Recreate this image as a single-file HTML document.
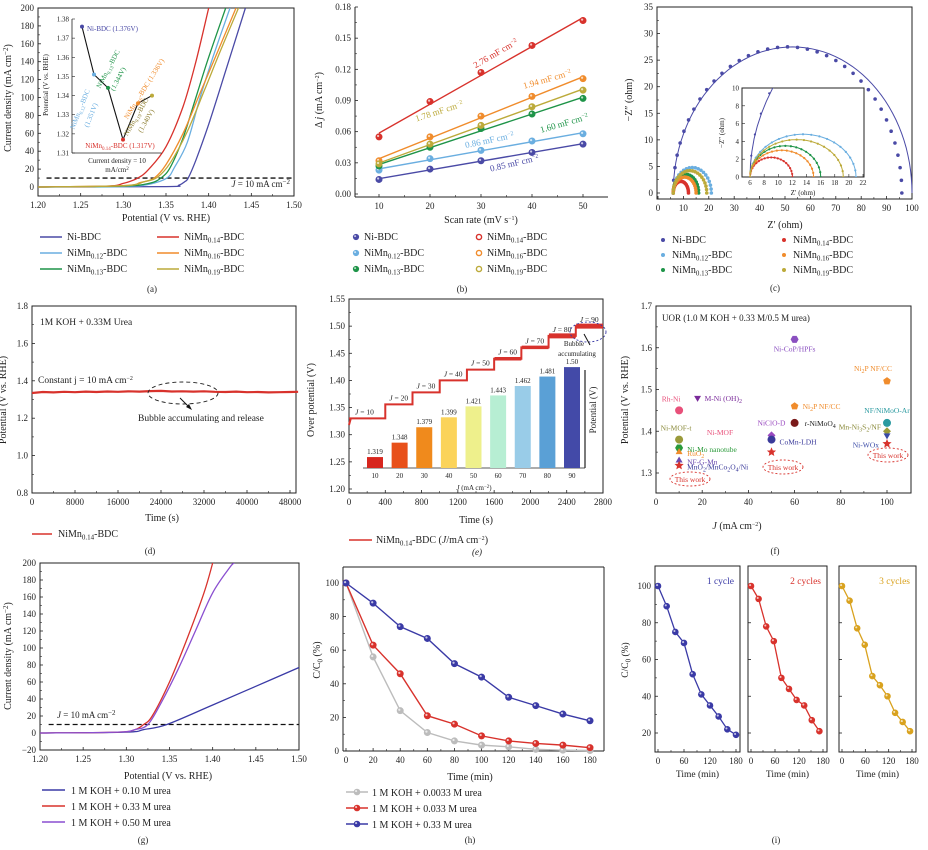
<!DOCTYPE html>
<html><head><meta charset="utf-8">
<style>
html,body{margin:0;padding:0;background:#fff;}
svg{display:block;font-family:"Liberation Serif","Noto Serif CJK SC",serif;}
</style></head>
<body>
<svg id="fig" width="928" height="850" viewBox="0 0 928 850" xmlns="http://www.w3.org/2000/svg">
<defs>
<clipPath id="clipc"><rect x="742" y="88" width="122" height="89"/></clipPath>
<clipPath id="clipa"><rect x="38" y="8" width="256" height="188"/></clipPath>
<clipPath id="clipg"><rect x="40" y="563" width="259" height="187"/></clipPath>
</defs>
</svg>
<script>
// ---------- DATA ----------
const aNames=['0','0.12','0.13','0.14','0.16','0.19'];
const aE_Ni=[1.20,1.35,1.365,1.372,1.376,1.385,1.40,1.42,1.443];
const aJ_Ni=[0,0.5,2,6,10,30,70,130,200];
const aE_12=[1.20,1.30,1.33,1.351,1.36,1.375,1.39,1.405,1.425];
const aJ_12=[0,0.5,3,10,22,50,100,145,200];
const aE_13=[1.20,1.30,1.33,1.344,1.355,1.37,1.385,1.40,1.42];
const aJ_13=[0,1,4,10,22,55,100,145,200];
const aE_14=[1.20,1.28,1.30,1.317,1.33,1.35,1.37,1.385,1.40];
const aJ_14=[0,1,4,10,20,45,90,140,200];
const aE_16=[1.20,1.30,1.32,1.336,1.35,1.37,1.39,1.41,1.432];
const aJ_16=[0,1.5,5,10,25,60,105,150,200];
const aE_19=[1.20,1.30,1.325,1.34,1.355,1.375,1.395,1.415,1.435];
const aJ_19=[0,1.5,6,11,27,62,108,155,200];
const aInsetV=[1.376,1.351,1.344,1.317,1.336,1.340];
const bRates=[10,20,30,40,50];
const bNi=[0.014,0.024,0.032,0.040,0.048];
const b12=[0.023,0.034,0.042,0.051,0.058];
const b13=[0.027,0.045,0.063,0.077,0.092];
const b14=[0.055,0.089,0.117,0.143,0.167];
const b16=[0.032,0.055,0.075,0.094,0.111];
const b19=[0.029,0.048,0.066,0.084,0.100];
const bCdl=['0.85','0.86','1.60','2.76','1.94','1.78'];
const cRs=[6,6,6,6,6,6];
const cEnd=[100,21,16,12,15,19.2];
const cEndPts=[96,21,16,12,15,19.2];
const cPeak=[27.5,4.8,3.5,2.2,3.0,4.2];
const dT=[0,2000,4000,6000,8000,10000,12000,14000,16000,18000,20000,22000,24000,26000,28000,30000,32000,34000,36000,38000,40000,42000,44000,46000,48000,49500];
const dV=[1.335,1.340,1.338,1.341,1.339,1.342,1.340,1.343,1.341,1.344,1.342,1.345,1.346,1.343,1.344,1.342,1.344,1.341,1.340,1.342,1.339,1.340,1.338,1.339,1.340,1.341];
const eT=[0,400,700,1000,1300,1600,1900,2200,2500,2800];
const eV=[1.33,1.356,1.378,1.40,1.42,1.44,1.461,1.482,1.50];
const eJ=[10,20,30,40,50,60,70,80,90];
const eBar=[1.319,1.348,1.379,1.399,1.421,1.443,1.462,1.481,1.50];
const eBarLbl=['1.319','1.348','1.379','1.399','1.421','1.443','1.462','1.481','1.50'];
const fJ=[60,100,18,10,60,60,100,10,10,10,10,10,50,50,50,100,100,100];
const fV=[1.62,1.52,1.48,1.45,1.46,1.42,1.42,1.38,1.36,1.35,1.33,1.318,1.39,1.38,1.35,1.40,1.39,1.37];
const fNames=['Ni-CoP/HPFs','Ni<tspan dy="2" font-size="6">2</tspan><tspan dy="-2">P NF/CC</tspan>','M-Ni (OH)<tspan dy="2" font-size="6">2</tspan>','Rh-Ni','Ni<tspan dy="2" font-size="6">2</tspan><tspan dy="-2">P NF/CC</tspan>','r-NiMoO<tspan dy="2" font-size="6">4</tspan>','NF/NiMoO-Ar','Ni-MOF-t','Ni-Mo nanotube','RuO<tspan dy="2" font-size="6">2</tspan>','NF-G-Mn','MnO<tspan dy="2" font-size="6">2</tspan><tspan dy="-2">/MnCo</tspan><tspan dy="2" font-size="6">2</tspan><tspan dy="-2">O</tspan><tspan dy="2" font-size="6">4</tspan><tspan dy="-2">/Ni</tspan>','NiClO-D','CoMn-LDH','','Mn-Ni<tspan dy="2" font-size="6">3</tspan><tspan dy="-2">S</tspan><tspan dy="2" font-size="6">2</tspan><tspan dy="-2">/NF</tspan>','Ni-WOx',''];
const hT=[0,20,40,60,80,100,120,140,160,180];
const hGray=[100,56,24,11,6,3.5,2.5,1,0.5,0.3];
const hRed=[100,63,46,21,16,9,6,4.5,3.5,2];
const hBlue=[100,88,74,67,52,44,32,27,22,18];
const i1T=[0,20,40,60,80,100,120,140,160,180];
const i1=[100,89,75,69,52,41,35,29,22,19];
const i2T=[0,19,38,57,76,95,114,133,152,171];
const i2=[100,93,78,70,50,44,38,35,27,21];
const i3T=[0,19.5,39,58.5,78,97.5,117,136.5,156,175];
const i3=[100,92,77,68,51,46,40,31,26,21];
const gE1=[1.20,1.30,1.32,1.347,1.40,1.45,1.50];
const gJ1=[0,1,4,10,33,55,77];
const gE2=[1.20,1.29,1.31,1.32,1.33,1.35,1.37,1.39,1.40];
const gJ2=[0,1,4,10,20,60,110,165,200];
const gE3=[1.20,1.29,1.31,1.325,1.34,1.36,1.38,1.40,1.42,1.425];
const gJ3=[0,1,4,10,35,75,120,165,195,200];

// ---------- HELPERS ----------
const NS='http://www.w3.org/2000/svg';
const svg=document.getElementById('fig');
const COL={ni:'#4a4aa6',c12:'#6aaee0',c13:'#1e9448',c14:'#d8322c',c16:'#f08c2c',c19:'#bcaa3a'};
const SER=[COL.ni,COL.c12,COL.c13,COL.c14,COL.c16,COL.c19];
function mk(tag,attrs,name,parent){
  const e=document.createElementNS(NS,tag);
  for(const k in attrs)e.setAttribute(k,attrs[k]);
  
  
  (parent||svg).appendChild(e);return e;
}
function T(x,y,s,o,name){
  o=o||{};
  const t=mk('text',{x:x,y:y,'font-size':o.fs||9,'text-anchor':o.a||'middle',fill:o.c||'#222'},name||'label');
  t.innerHTML=s;
  if(o.rot)t.setAttribute('transform','rotate('+o.rot+' '+x+' '+y+')');
  if(o.it)t.setAttribute('font-style','italic');
  return t;
}
function lin(d0,d1,p0,p1){return v=>p0+(v-d0)*(p1-p0)/(d1-d0);}
function nm(s){return s==='0'?'Ni-BDC':'NiMn<tspan dy="2.5" font-size="7">'+s+'</tspan><tspan dy="-2.5">-BDC</tspan>';}
function line(x1,y1,x2,y2,st,w,name,dash){const l=mk('line',{x1,y1,x2,y2,stroke:st||'#222','stroke-width':w||1},name||'line');if(dash)l.setAttribute('stroke-dasharray',dash);return l;}
function smooth(p){
  let d='M'+p[0][0].toFixed(1)+','+p[0][1].toFixed(1);
  for(let i=0;i<p.length-1;i++){
    const p0=p[i-1]||p[i],p1=p[i],p2=p[i+1],p3=p[i+2]||p2;
    const c1=[p1[0]+(p2[0]-p0[0])/6,p1[1]+(p2[1]-p0[1])/6];
    const c2=[p2[0]-(p3[0]-p1[0])/6,p2[1]-(p3[1]-p1[1])/6];
    d+=' C'+c1.join(',')+' '+c2.join(',')+' '+p2[0].toFixed(1)+','+p2[1].toFixed(1);
  }
  return d;
}
function axes(c){
  const g=mk('g',{},c.name);
  if(c.box!==false) mk('rect',{x:c.L,y:c.T,width:c.R-c.L,height:c.B-c.T,fill:'none',stroke:'#222','stroke-width':1},c.name+'-frame',g);
  else {line(c.L,c.T,c.L,c.B,'#222',1,c.name+'-y-axis');line(c.L,c.B,c.R,c.B,'#222',1,c.name+'-x-axis');}
  const fs=c.fs||9;
  c.xt.forEach((v,i)=>{const x=c.sx(v);line(x,c.B,x,c.B-3,'#222',0.8,'x-tick');
    if(c.xl!==false)T(x,c.B+12,c.xf?c.xf(v):v,{fs},'x-tick-label');
    if(c.minorX&&i<c.xt.length-1){const xm=c.sx((v+c.xt[i+1])/2);line(xm,c.B,xm,c.B-2,'#222',0.6,'x-minor-tick');}});
  c.yt.forEach((v,i)=>{const y=c.sy(v);line(c.L,y,c.L+3,y,'#222',0.8,'y-tick');
    if(c.yl!==false)T(c.L-4,y+3,c.yf?c.yf(v):v,{fs,a:'end'},'y-tick-label');
    if(c.minorY&&i<c.yt.length-1){const ym=c.sy((v+c.yt[i+1])/2);line(c.L,ym,c.L+2,ym,'#222',0.6,'y-minor-tick');}});
  return g;
}
function pathOf(E,J,sx,sy){return smooth(E.map((e,i)=>[sx(e),sy(J[i])]));}
function ball(x,y,col,r,name){mk('circle',{cx:x,cy:y,r:r||3.2,fill:col,stroke:col,'stroke-width':0.6},name||'marker');mk('circle',{cx:x-0.9,cy:y-0.9,r:(r||3.2)*0.35,fill:'#fff','fill-opacity':0.7},'marker-highlight');}
function range(a,b,s){const r=[];for(let v=a;v<=b+1e-9;v+=s)r.push(+v.toFixed(6));return r;}

// ---------- (a) ----------
{
 const sx=lin(1.2,1.5,38,294), sy=lin(0,200,187,8);
 axes({name:'panel-a-axes',L:38,R:294,T:8,B:196,sx,sy,xt:range(1.2,1.5,0.05),yt:range(0,200,20),xf:v=>v.toFixed(2),minorX:true,minorY:true});
 T(166,221,'Potential (V vs. RHE)',{fs:10},'x-axis-title');
 T(11,98,'Current density (mA cm<tspan dy="-3" font-size="7">−2</tspan><tspan dy="3">)</tspan>',{fs:10,rot:-90},'y-axis-title');
 line(sx(1.21),sy(10),294,sy(10),'#111',1.3,'j10-reference-line','5,3');
 T(290,187,'<tspan font-style="italic">J</tspan> = 10 mA cm<tspan dy="-3" font-size="7">−2</tspan>',{fs:9,a:'end'},'j10-label');
 const ser=[[aE_Ni,aJ_Ni],[aE_12,aJ_12],[aE_13,aJ_13],[aE_14,aJ_14],[aE_16,aJ_16],[aE_19,aJ_19]];
 ser.forEach((s,i)=>{mk('path',{d:pathOf(s[0],s[1],sx,sy),fill:'none',stroke:SER[i],'stroke-width':1.3,'clip-path':'url(#clipa)'},'lsv-curve-'+aNames[i]);});
 const ix=[82,94,108,123,138,152], iy=lin(1.31,1.38,153,19);
 mk('rect',{x:72,y:19,width:90,height:134,fill:'#fff'},'inset-bg');
 line(72,19,72,153,'#222',0.8,'inset-y-axis');line(72,153,162,153,'#222',0.8,'inset-x-axis');
 range(1.31,1.38,0.01).forEach(v=>{line(72,iy(v),75,iy(v),'#222',0.6,'inset-tick');T(69,iy(v)+2.5,v.toFixed(2),{fs:7,a:'end'},'inset-tick-label');});
 mk('polyline',{points:aInsetV.map((v,i)=>ix[i]+','+iy(v)).join(' '),fill:'none',stroke:'#111','stroke-width':1.1},'inset-line');
 aInsetV.forEach((v,i)=>mk('circle',{cx:ix[i],cy:iy(v),r:2,fill:SER[i]},'inset-point'));
 T(48,85,'Potential (V vs. RHE)',{fs:7,rot:-90},'inset-y-title');
 T(117,163,'Current density = 10',{fs:7},'inset-x-title');T(117,172,'mA/cm<tspan dy="-2" font-size="5">2</tspan>',{fs:7},'inset-x-title-2');
 T(87,31,'Ni-BDC (1.376V)',{fs:7,a:'start',c:COL.ni},'inset-label-ni');
 T(120,148,'NiMn<tspan font-size="5" dy="2">0.14</tspan><tspan dy="-2">-BDC (1.317V)</tspan>',{fs:7,c:COL.c14},'inset-label-14');
 T(110,70,'NiMn<tspan font-size="5" dy="2">0.13</tspan><tspan dy="-2">-BDC</tspan>',{fs:7,c:COL.c13,rot:-62},'inset-label-13');
 T(120,80,'(1.344V)',{fs:7,c:COL.c13,rot:-62},'inset-label-13b');
 T(82,110,'NiMn<tspan font-size="5" dy="2">0.12</tspan><tspan dy="-2">-BDC</tspan>',{fs:7,c:COL.c12,rot:-68},'inset-label-12');
 T(93,116,'(1.351V)',{fs:7,c:COL.c12,rot:-68},'inset-label-12b');
 T(146,90,'NiMn<tspan font-size="5" dy="2">0.16</tspan><tspan dy="-2">-BDC (1.336V)</tspan>',{fs:7,c:COL.c16,rot:-58},'inset-label-16');
 T(138,118,'NiMn<tspan font-size="5" dy="2">0.19</tspan><tspan dy="-2">-BDC</tspan>',{fs:7,c:'#8a7a2a',rot:-60},'inset-label-19');
 T(148,122,'(1.340V)',{fs:7,c:'#8a7a2a',rot:-60},'inset-label-19b');
 const lg=[[40,240,0],[40,256,1],[40,272,2],[157,240,3],[157,256,4],[157,272,5]];
 lg.forEach(p=>{line(p[0],p[1]-3,p[0]+22,p[1]-3,SER[p[2]],1.5,'legend-line-'+aNames[p[2]]);T(p[0]+27,p[1],nm(aNames[p[2]]),{fs:10,a:'start'},'legend-entry-'+aNames[p[2]]);});
 T(152,292,'(a)',{fs:9},'panel-a-label');
}
// ---------- (b) ----------
{
 const sx=lin(10,50,379,583), sy=lin(0,0.18,194,7);
 axes({name:'panel-b-axes',L:355,R:608,T:7,B:197,sx,sy,xt:bRates,yt:range(0,0.18,0.03),yf:v=>v.toFixed(2),box:false,minorX:true,minorY:true});
 T(481,223,'Scan rate (mV s<tspan dy="-3" font-size="6">−1</tspan><tspan dy="3">)</tspan>',{fs:10},'x-axis-title');
 T(322,100,'Δ <tspan font-style="italic">j</tspan> (mA cm<tspan dy="-3" font-size="6">−2</tspan><tspan dy="3">)</tspan>',{fs:10,rot:-90},'y-axis-title');
 const ser=[bNi,b12,b13,b14,b16,b19];
 ser.forEach((s,i)=>{
  const n=s.length;let mx=0,my=0;bRates.forEach((r,k)=>{mx+=r;my+=s[k];});mx/=n;my/=n;
  let num=0,den=0;bRates.forEach((r,k)=>{num+=(r-mx)*(s[k]-my);den+=(r-mx)*(r-mx);});const m=num/den,b0=my-m*mx;
  line(sx(10),sy(m*10+b0),sx(50),sy(m*50+b0),SER[i],1.4,'fit-line-'+aNames[i]);
  s.forEach((v,k)=>ball(sx(bRates[k]),sy(v),SER[i],3.2,'point-'+aNames[i]));
 });
 const lbl=[[515,166,-13,COL.ni],[490,143,-12,COL.c12],[565,126,-16,COL.c13],[497,56,-30,COL.c14],[548,82,-16,COL.c16],[440,114,-18,COL.c19]];
 lbl.forEach((p,i)=>T(p[0],p[1],bCdl[i]+' mF cm<tspan dy="-3" font-size="6">−2</tspan>',{fs:9,c:p[3],rot:p[2]},'cdl-label-'+aNames[i]));
 const lg=[[356,240,0],[356,256,1],[356,272,2],[479,240,3],[479,256,4],[479,272,5]];
 lg.forEach(p=>{ if(p[2]<3) ball(p[0],p[1]-3,SER[p[2]],2.8,'legend-marker'); else mk('circle',{cx:p[0],cy:p[1]-3,r:2.6,fill:'#fff',stroke:SER[p[2]],'stroke-width':1.4},'legend-marker');
  T(p[0]+8,p[1],nm(aNames[p[2]]),{fs:10,a:'start'},'legend-entry-'+aNames[p[2]]);});
 T(462,292,'(b)',{fs:9},'panel-b-label');
}
// ---------- (c) ----------
{
 const sx=lin(0,100,658,912), sy=lin(0,35,193,7);
 axes({name:'panel-c-axes',L:657,R:912,T:7,B:199,sx,sy,xt:range(0,100,10),yt:range(0,35,5),minorX:true,minorY:true});
 T(785,228,'Z′ (ohm)',{fs:10},'x-axis-title');
 T(632,100,'−Z″ (ohm)',{fs:10,rot:-90},'y-axis-title');
 function arc(a,b,ry,n){const c=(a+b)/2,rx=(b-a)/2;const p=[];for(let k=0;k<=n;k++){const t=Math.PI-Math.PI*k/n;p.push([c+rx*Math.cos(t),ry*Math.sin(t)]);}return p;}
 function draw(sxx,syy,clip,pre,rr){
  [0,1,2,3,4,5].forEach(i=>{
   const fit=arc(cRs[i],cEnd[i],cPeak[i],60);const pth=mk('path',{d:'M'+fit.map(q=>sxx(q[0]).toFixed(1)+','+syy(q[1]).toFixed(1)).join(' L'),fill:'none',stroke:SER[i],'stroke-width':1},pre+'fit-'+aNames[i]);
   if(clip)pth.setAttribute('clip-path',clip);
   const pts=arc(cRs[i],cEndPts[i],cPeak[i]*(i===0?1.0:1),i===0?36:20);
   pts.forEach((q,k)=>{const c=mk('circle',{cx:sxx(q[0]),cy:syy(q[1]),r:rr,fill:SER[i]},pre+'point-'+aNames[i]);if(clip)c.setAttribute('clip-path',clip);});
  });
 }
 draw(sx,sy,null,'',1.8);
 mk('rect',{x:742,y:88,width:122,height:89,fill:'#fff',stroke:'#222','stroke-width':1},'inset-frame');
 const ix=lin(5,22,743,863), iy=lin(0,10,177,88);
 range(6,22,2).forEach(v=>{line(ix(v),177,ix(v),174,'#222',0.6,'inset-x-tick');T(ix(v),185,v,{fs:7},'inset-x-tick-label');});
 range(0,10,2).forEach(v=>{line(742,iy(v),745,iy(v),'#222',0.6,'inset-y-tick');T(739,iy(v)+2.5,v,{fs:7,a:'end'},'inset-y-tick-label');});
 draw(ix,iy,'url(#clipc)','inset-',1.1);
 T(803,195,'Z′ (ohm)',{fs:7},'inset-x-title');T(724,133,'−Z″ (ohm)',{fs:7,rot:-90},'inset-y-title');
 const lg=[[663,243,0],[663,258,1],[663,273,2],[784,243,3],[784,258,4],[784,273,5]];
 lg.forEach(p=>{mk('circle',{cx:p[0],cy:p[1]-3,r:2,fill:SER[p[2]]},'legend-marker');T(p[0]+9,p[1],nm(aNames[p[2]]),{fs:10,a:'start'},'legend-entry-'+aNames[p[2]]);});
 T(775,291,'(c)',{fs:9},'panel-c-label');
}
// ---------- (d) ----------
{
 const sx=lin(0,48000,32,290), sy=lin(0.8,1.8,493,306);
 axes({name:'panel-d-axes',L:32,R:296,T:306,B:493,sx,sy,xt:range(0,48000,8000),yt:range(0.8,1.8,0.2),yf:v=>v.toFixed(1),minorX:true,minorY:true});
 T(162,521,'Time (s)',{fs:10},'x-axis-title');
 T(6,400,'Potential (V vs. RHE)',{fs:10,rot:-90},'y-axis-title');
 mk('polyline',{points:dT.map((t,i)=>sx(t).toFixed(1)+','+sy(dV[i]).toFixed(1)).join(' '),fill:'none',stroke:COL.c14,'stroke-width':2.2},'stability-curve');
 T(40,325,'1M KOH + 0.33M Urea',{fs:9.5,a:'start'},'electrolyte-note');
 T(38,383,'Constant j = 10 mA cm<tspan dy="-3" font-size="6">−2</tspan>',{fs:9.5,a:'start'},'current-note');
 mk('ellipse',{cx:183,cy:393,rx:35,ry:11,fill:'none',stroke:'#222','stroke-width':0.9,'stroke-dasharray':'4,3'},'bubble-ellipse');
 line(180,398,190,408,'#111',1,'bubble-arrow');mk('polygon',{points:'192,410 186,407 189,404',fill:'#111'},'arrow-head');
 T(138,421,'Bubble accumulating and release',{fs:9.5,a:'start'},'bubble-note');
 line(32,534,52,534,COL.c14,1.5,'legend-line');T(58,537,'NiMn<tspan dy="2.5" font-size="7">0.14</tspan><tspan dy="-2.5">-BDC</tspan>',{fs:10,a:'start'},'legend-entry');
 T(150,554,'(d)',{fs:9},'panel-d-label');
}
// ---------- (e) ----------
{
 const sx=lin(0,2800,349,603), sy=lin(1.2,1.55,489,299);
 axes({name:'panel-e-axes',L:349,R:603,T:299,B:493,sx,sy,xt:range(0,2800,400),yt:range(1.2,1.55,0.05),yf:v=>v.toFixed(2),minorX:true,minorY:true});
 T(476,523,'Time (s)',{fs:10},'x-axis-title');
 T(314,400,'Over potential (V)',{fs:10,rot:-90},'y-axis-title');
 let d='M'+sx(0)+','+sy(1.318)+' L'+sx(20)+','+sy(eV[0]);
 eV.forEach((v,i)=>{d+=' L'+sx(eT[i])+','+sy(v)+' L'+sx(eT[i+1])+','+sy(v);});
 mk('path',{d:d,fill:'none',stroke:COL.c14,'stroke-width':2},'step-curve');
 eV.forEach((v,i)=>{ if(i>=5) line(sx(eT[i]+4),sy(v),sx(eT[i+1]),sy(v),COL.c14,i>=7?5:3.5,'step-thick');
   T(sx(eT[i])+ (i===0?6:4),sy(v)-4,'<tspan font-style="italic">J</tspan> = '+eJ[i],{fs:7.5,a:'start'},'step-label');});
 const bx=lin(10,90,375,572), by=v=>468-(v-1.297)*497;
 line(363,468,585,468,'#222',0.8,'inset-x-axis');line(585,370,585,468,'#222',1.2,'inset-right-axis');
 eBar.forEach((v,i)=>{const col=['#d7261e','#e8501a','#f08a1c','#fbd35a','#eef08c','#b7eed3','#99cce8','#5aa0d6','#434aa8'][i];
  mk('rect',{x:bx(eJ[i])-8,y:by(v),width:16,height:468-by(v),fill:col},'bar-'+eJ[i]);
  T(bx(eJ[i]),by(v)-3,eBarLbl[i],{fs:7},'bar-value');
  T(bx(eJ[i]),478,eJ[i],{fs:7},'inset-x-tick-label');});
 T(474,490,'<tspan font-style="italic">J</tspan> (mA cm<tspan dy="-2" font-size="5">−2</tspan><tspan dy="2">)</tspan>',{fs:7},'inset-x-title');
 T(596,410,'Potential (V)',{fs:9,rot:-90},'inset-y-title');
 mk('ellipse',{cx:588,cy:332,rx:18,ry:10,fill:'none',stroke:'#3a3aa6','stroke-width':0.9,'stroke-dasharray':'2,2'},'bubble-ellipse');
 line(590,345,584,334,'#111',1,'bubble-arrow');
 T(574,346,'Bubble',{fs:7},'bubble-note');T(577,356,'accumulating',{fs:7},'bubble-note-2');
 line(349,540,372,540,COL.c14,1.5,'legend-line');
 T(376,543,'NiMn<tspan dy="2.5" font-size="7">0.14</tspan><tspan dy="-2.5">-BDC (</tspan><tspan font-style="italic">J</tspan>/mA cm<tspan dy="-3" font-size="6">−2</tspan><tspan dy="3">)</tspan>',{fs:10,a:'start'},'legend-entry');
 T(477,555,'(e)',{fs:9,it:true},'panel-e-label');
}
// ---------- (f) ----------
{
 const sx=lin(0,100,656,887), sy=lin(1.3,1.7,473,306);
 axes({name:'panel-f-axes',L:656,R:911,T:306,B:493,sx,sy,xt:range(0,100,20),yt:range(1.3,1.7,0.1),yf:v=>v.toFixed(1),minorX:true,minorY:true});
 T(737,529,'<tspan font-style="italic">J</tspan> (mA cm<tspan dy="-3" font-size="6">−2</tspan><tspan dy="3">)</tspan>',{fs:10},'x-axis-title');
 T(628,400,'Potential (V vs. RHE)',{fs:10,rot:-90},'y-axis-title');
 T(662,321,'UOR (1.0 M KOH + 0.33 M/0.5 M urea)',{fs:9,a:'start'},'panel-f-title');
 const cols=['#8a4fc0','#f08c2c','#7a2a9a','#e8507a','#f08c2c','#7a1a1a','#2a9aa0','#9a9a3a','#2a9a3a','#f08c2c','#6a4ab0','#d8322c','#9a4ac0','#3a3a9a','#d8322c','#9a9a3a','#3a4aa6','#d8322c'];
 const shp=['hex','pent','tdn','c','pent','c','c','c','hex','tri','tri','star','dia','c','star','dia','tdn','star'];
 const off=[[0,12,'middle'],[-14,-10,'middle'],[7,3,'start'],[-8,-9,'middle'],[8,3,'start'],[10,3,'start'],[0,-10,'middle'],[-3,-9,'middle'],[8,4,'start'],[8,4,'start'],[8,4,'start'],[8,4,'start'],[0,-10,'middle'],[8,5,'start'],[0,0,'start'],[-6,-2,'end'],[-8,12,'end'],[0,0,'start']];
 const textCols=['#8a4fc0','#f08c2c','#7a2a9a','#e8507a','#f08c2c','#222','#2a9aa0','#8a8a3a','#2a9a3a','#f08c2c','#6a4ab0','#3a3a9a','#9a4ac0','#3a3a9a','#222','#8a8a3a','#3a4aa6','#222'];
 function shape(x,y,s,c){
  const r=4;let pts=[];
  if(s==='c'){mk('circle',{cx:x,cy:y,r:r,fill:c},'comparison-point');return;}
  const spec={hex:[6,0,1],pent:[5,-90,1],tri:[3,-90,1],tdn:[3,90,1],dia:[4,-90,1],star:[10,-90,0.45]}[s];
  for(let k=0;k<spec[0];k++){const a=(spec[1]+360*k/spec[0])*Math.PI/180;const rr=(s==='star'&&k%2)?r*1.2*spec[2]:r*(s==='star'?1.2:1);pts.push((x+rr*Math.cos(a)).toFixed(1)+','+(y+rr*Math.sin(a)).toFixed(1));}
  mk('polygon',{points:pts.join(' '),fill:c},'comparison-point');
 }
 fJ.forEach((j,i)=>{const x=sx(j),y=sy(fV[i]);shape(x,y,shp[i],cols[i]);
  if(fNames[i])T(x+off[i][0],y+off[i][1],fNames[i],{fs:7.5,a:off[i][2],c:textCols[i]},'point-label');});
 T(720,435,'Ni-MOF',{fs:7.5,c:'#e8507a'},'point-label-ni-mof');
 [[690,479],[783,467],[888,455]].forEach(p=>{mk('ellipse',{cx:p[0],cy:p[1],rx:20,ry:7,fill:'none',stroke:'#d8322c','stroke-width':0.9,'stroke-dasharray':'2,2'},'this-work-ellipse');T(p[0],p[1]+3,'This work',{fs:7.5,c:'#d8322c'},'this-work-label');});
 T(775,554,'(f)',{fs:9},'panel-f-label');
}
// ---------- (g) ----------
{
 const sx=lin(1.2,1.5,40,299), sy=lin(0,200,733,563);
 axes({name:'panel-g-axes',L:40,R:299,T:563,B:750,sx,sy,xt:range(1.2,1.5,0.05),yt:range(-20,200,20),xf:v=>v.toFixed(2),yf:v=>v<0?'−'+(-v):v,minorX:true,minorY:true});
 T(168,779,'Potential (V vs. RHE)',{fs:10},'x-axis-title');
 T(11,656,'Current density (mA cm<tspan dy="-3" font-size="7">−2</tspan><tspan dy="3">)</tspan>',{fs:10,rot:-90},'y-axis-title');
 line(sx(1.21),sy(10),299,sy(10),'#111',1.3,'j10-reference-line','5,3');
 T(57,718,'<tspan font-style="italic">J</tspan> = 10 mA cm<tspan dy="-3" font-size="7">−2</tspan>',{fs:9,a:'start'},'j10-label');
 const cols=['#3a3aa6','#d8322c','#8a4fd0'];
 [[gE1,gJ1],[gE2,gJ2],[gE3,gJ3]].forEach((s,i)=>mk('path',{d:pathOf(s[0],s[1],sx,sy),fill:'none',stroke:cols[i],'stroke-width':1.3,'clip-path':'url(#clipg)'},'lsv-urea-'+i));
 ['1 M KOH + 0.10 M urea','1 M KOH + 0.33 M urea','1 M KOH + 0.50 M urea'].forEach((s,i)=>{line(42,790+i*16,65,790+i*16,cols[i],1.5,'legend-line');T(71,794+i*16,s,{fs:10,a:'start'},'legend-entry');});
 T(143,843,'(g)',{fs:9},'panel-g-label');
}
// ---------- (h) ----------
{
 const sx=lin(0,180,346,590), sy=lin(0,100,751,583);
 axes({name:'panel-h-axes',L:343,R:604,T:567,B:751,sx,sy,xt:range(0,180,20),yt:range(0,100,20),box:false,minorX:true,minorY:true});
 line(343,567,604,567,'#222',1,'top-axis');line(604,567,604,751,'#222',1,'right-axis');
 T(470,780,'Time (min)',{fs:10},'x-axis-title');
 T(320,660,'C/C<tspan dy="2.5" font-size="7">0</tspan><tspan dy="-2.5"> (%)</tspan>',{fs:10,rot:-90},'y-axis-title');
 const cols=['#bcbcbc','#d8322c','#3a3aa6'];
 [hGray,hRed,hBlue].forEach((s,i)=>{mk('polyline',{points:hT.map((t,k)=>sx(t)+','+sy(s[k])).join(' '),fill:'none',stroke:cols[i],'stroke-width':1.4},'degradation-line-'+i);
   s.forEach((v,k)=>ball(sx(hT[k]),sy(v),cols[i],3.2,'degradation-point'));});
 ['1 M KOH + 0.0033 M urea','1 M KOH + 0.033 M urea','1 M KOH + 0.33 M urea'].forEach((s,i)=>{line(346,792+i*16,368,792+i*16,cols[i],1.5,'legend-line');ball(357,792+i*16,cols[i],3,'legend-marker');T(372,796+i*16,s,{fs:10,a:'start'},'legend-entry');});
 T(470,843,'(h)',{fs:9},'panel-h-label');
}
// ---------- (i) ----------
{
 const sy=lin(20,100,733,586);
 const sets=[[i1T,i1,655,740,'#3a3aa6','1 cycle'],[i2T,i2,748,827,'#d8322c','2 cycles'],[i3T,i3,839,916,'#d9a21e','3 cycles']];
 sets.forEach((s,j)=>{
  const sx=lin(0,180,s[2]+3,s[3]-4);
  axes({name:'panel-i-axes-'+(j+1),L:s[2],R:s[3],T:566,B:752,sx,sy,xt:[0,60,120,180],yt:[20,40,60,80,100],yl:j===0,minorX:true,minorY:j===0});
  T((s[2]+s[3])/2,777,'Time (min)',{fs:9.5},'x-axis-title');
  T(s[3]-6,584,s[5],{fs:9.5,a:'end',c:s[4]},'cycle-label');
  mk('polyline',{points:s[0].map((t,k)=>sx(t)+','+sy(s[1][k])).join(' '),fill:'none',stroke:s[4],'stroke-width':1.3},'cycle-line-'+(j+1));
  s[1].forEach((v,k)=>ball(sx(s[0][k]),sy(v),s[4],3,'cycle-point'));
 });
 T(628,660,'C/C<tspan dy="2.5" font-size="7">0</tspan><tspan dy="-2.5"> (%)</tspan>',{fs:9.5,rot:-90},'y-axis-title');
 T(776,843,'(i)',{fs:9},'panel-i-label');
}
</script>
</body></html>
